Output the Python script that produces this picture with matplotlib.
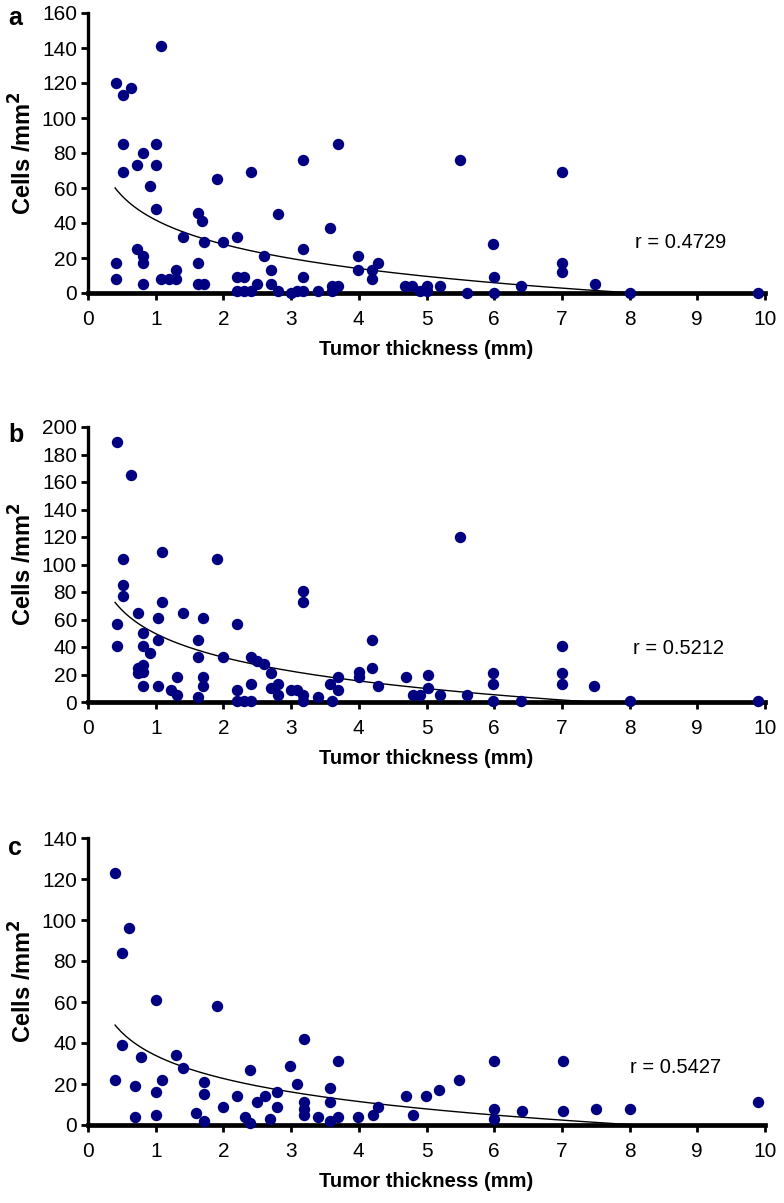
import matplotlib
matplotlib.use("Agg")
import matplotlib.pyplot as plt
import numpy as np

# ── data ──────────────────────────────────────────────────────────────────────
A_X = [0.42, 0.51, 0.64, 0.51, 0.51, 0.72, 0.81, 0.92, 1.0, 1.0,
       1.0, 1.08, 0.42, 0.42, 0.72, 0.81, 0.81, 0.81, 1.08, 1.2,
       1.3, 1.3, 1.4, 1.63, 1.69, 1.72, 1.63, 1.63, 1.72, 1.91,
       2.0, 2.2, 2.2, 2.3, 2.2, 2.3, 2.41, 2.41, 2.5, 2.6,
       2.7, 2.7, 2.8, 2.8, 3.0, 3.09, 3.17, 3.17, 3.17, 3.17,
       3.4, 3.58, 3.6, 3.6, 3.7, 3.7, 3.99, 3.99, 4.19, 4.19,
       4.29, 5.49, 7.0, 5.98, 7.0, 7.0, 6.0, 6.0, 4.68, 4.78,
       4.9, 5.0, 5.0, 5.2, 5.6, 6.39, 7.49, 8.01, 9.9]
A_Y = [120, 113, 117, 85, 69, 73, 80, 61, 85, 73,
       48, 141, 17, 8, 25, 21, 17, 5, 8, 8,
       13, 8, 32, 46, 41, 29, 17, 5, 5, 65,
       29, 32, 9, 9, 1, 1, 69, 1, 5, 21,
       13, 5, 45, 1, 0, 1, 76, 25, 9, 1,
       1, 37, 4, 1, 85, 4, 21, 13, 13, 8,
       17, 76, 69, 28, 17, 12, 9, 0, 4, 4,
       1, 4, 1, 4, 0, 4, 5, 0, 0]

B_X = [0.43, 0.63, 0.51, 0.51, 0.51, 0.43, 0.43, 0.74, 0.81, 0.81,
       0.81, 0.81, 0.81, 0.74, 0.74, 0.92, 1.03, 1.03, 1.03, 1.1,
       1.1, 1.23, 1.32, 1.32, 1.4, 1.63, 1.63, 1.63, 1.7, 1.7,
       1.7, 1.91, 2.0, 2.2, 2.2, 2.2, 2.3, 2.41, 2.41, 2.41,
       2.5, 2.6, 2.7, 2.7, 2.8, 2.8, 3.0, 3.09, 3.17, 3.17,
       3.17, 3.17, 3.4, 3.58, 3.6, 3.7, 3.7, 4.0, 4.0, 4.19,
       4.19, 4.29, 5.49, 7.0, 7.0, 7.0, 7.48, 5.98, 5.98, 5.98,
       6.39, 4.7, 5.02, 4.8, 4.9, 5.02, 5.2, 5.6, 8.0, 9.89]
B_Y = [189, 165, 104, 85, 77, 57, 41, 65, 50, 41,
       27, 22, 12, 25, 21, 36, 61, 45, 12, 109,
       73, 9, 18, 5, 65, 45, 33, 4, 61, 18,
       12, 104, 33, 57, 9, 1, 1, 33, 13, 1,
       30, 28, 21, 10, 13, 5, 9, 9, 81, 73,
       5, 1, 4, 13, 1, 18, 9, 22, 18, 45,
       25, 12, 120, 41, 21, 13, 12, 21, 13, 1,
       1, 18, 20, 5, 5, 10, 5, 5, 1, 1]

C_X = [0.4, 0.6, 0.5, 1.0, 1.91, 0.5, 0.4, 0.79, 0.7, 0.7,
       1.0, 1.0, 1.09, 1.3, 1.4, 1.6, 1.71, 1.71, 1.71, 2.0,
       2.2, 2.32, 2.39, 2.39, 2.49, 2.61, 2.69, 2.79, 2.79, 2.99,
       3.09, 3.19, 3.19, 3.19, 3.19, 3.4, 3.58, 3.58, 3.58, 3.69,
       3.69, 3.99, 4.21, 4.29, 6.0, 7.01, 5.48, 5.19, 4.99, 4.69,
       4.8, 6.0, 6.0, 6.41, 7.01, 7.5, 8.0, 9.9]
C_Y = [123, 96, 84, 61, 58, 39, 22, 33, 19, 4,
       16, 5, 22, 34, 28, 6, 21, 15, 2, 9,
       14, 4, 1, 27, 11, 14, 3, 16, 9, 29,
       20, 42, 11, 8, 5, 4, 18, 11, 2, 31,
       4, 4, 5, 9, 31, 31, 22, 17, 14, 14,
       5, 8, 3, 7, 7, 8, 8, 11]

# logarithmic trend lines: y = intercept - slope * ln(x)
TREND_INTERCEPT = [41.7, 49.7, 33.9]
TREND_SLOPE = [20.0, 24.8, 16.2]
R_LABELS = ["r = 0.4729", "r = 0.5212", "r = 0.5427"]
PANEL_LETTERS = ["a", "b", "c"]
Y_MAX = [160, 200, 140]
Y_STEP = [20, 20, 20]

# ── style ─────────────────────────────────────────────────────────────────────
NAVY = "#000080"
TICKFONT = ["Liberation Sans", "DejaVu Sans"]
BOLD = ["Liberation Sans", "DejaVu Sans"]

W, H = 784, 1203
fig = plt.figure(figsize=(W / 100, H / 100), dpi=100)
fig.patch.set_facecolor("white")

# axes boxes in pixels: (left, top, right, bottom)
boxes = [(88, 13, 765, 293), (88, 427, 765, 702), (88, 838, 765, 1125)]
letter_y = [18, 435, 848]
r_pos = [(0.808, 0.18), (0.805, 0.196), (0.80, 0.20)]

panels = [(A_X, A_Y), (B_X, B_Y), (C_X, C_Y)]

for i, ((xs, ys), (l, t, r, b)) in enumerate(zip(panels, boxes)):
    ax = fig.add_axes([l / W, 1 - b / H, (r - l) / W, (b - t) / H])
    ax.set_xlim(0, 10)
    ax.set_ylim(0, Y_MAX[i])

    # trend line
    tx = np.linspace(0.4, 9.9, 300)
    ty = TREND_INTERCEPT[i] - TREND_SLOPE[i] * np.log(tx)
    ax.plot(tx, ty, color="black", lw=1.0, zorder=2)

    ax.plot(xs, ys, "o", color=NAVY, markersize=8.2, markeredgewidth=0,
            zorder=3, clip_on=False)

    for side in ("top", "right"):
        ax.spines[side].set_visible(False)
    ax.spines["left"].set_linewidth(2.4)
    ax.spines["bottom"].set_linewidth(3.4)
    ax.spines["bottom"].set_zorder(1)

    ax.set_xticks(range(0, 11))
    ax.set_yticks(range(0, Y_MAX[i] + 1, Y_STEP[i]))
    ax.tick_params(axis="x", direction="out", length=5, width=2, pad=7)
    ax.tick_params(axis="y", direction="out", length=5, width=2, pad=3)
    for lab in ax.get_xticklabels() + ax.get_yticklabels():
        lab.set_family(TICKFONT)
        lab.set_fontsize(15)

    ax.set_xlabel("Tumor thickness (mm)", fontsize=14.5, fontweight="bold",
                  family=BOLD, labelpad=8)
    ax.set_ylabel("Cells /mm$^\\mathbf{2}$", fontsize=17, fontweight="bold",
                  family=BOLD, labelpad=4)

    ax.text(r_pos[i][0], r_pos[i][1], R_LABELS[i], transform=ax.transAxes,
            fontsize=14.5, family=TICKFONT, va="center", ha="left")

    fig.text(8 / W, 1 - letter_y[i] / H, PANEL_LETTERS[i], fontsize=18,
             fontweight="bold", family=BOLD, va="center", ha="left")

fig.savefig("out.png", dpi=100, facecolor="white")
